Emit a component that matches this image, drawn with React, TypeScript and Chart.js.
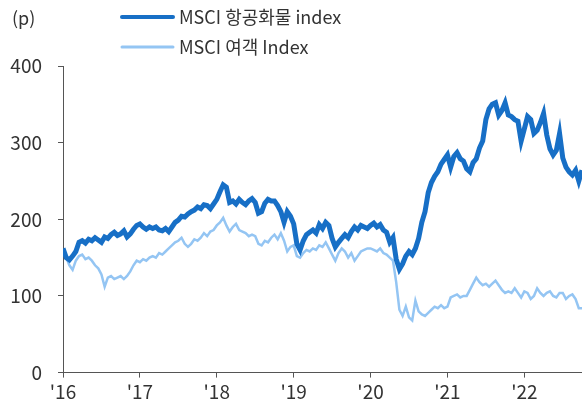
import React, { useEffect, useRef } from "react";
import { Chart, registerables } from "chart.js";

Chart.register(...registerables);

// decimal-year time stamps, half-month spacing from Jan 2016 to Sep 2022
const dates: number[] = Array.from({ length: 163 }, (_, i) => 2016 + i / 24);

const xTickYears = [2016, 2017, 2018, 2019, 2020, 2021, 2022];
const yTicks = [0, 100, 200, 300, 400];

const seriesNames = ["MSCI 항공화물 index", "MSCI 여객 Index"];
const unitLabel = "(p)";

const cargoIndex = [
  162, 150, 147, 152, 158, 170, 172, 169, 174, 172, 176, 173, 170, 177, 175, 180, 183, 179, 181, 185, 177, 181, 187, 192,
  194, 190, 187, 190, 188, 190, 186, 185, 188, 184, 190, 196, 199, 204, 203, 207, 210, 212, 216, 214, 219, 218, 214, 220,
  226, 236, 245, 242, 222, 224, 220, 226, 222, 219, 224, 227, 222, 208, 210, 221, 226, 224, 224, 218, 210, 196, 210, 204,
  194, 168, 160, 172, 180, 183, 186, 182, 193, 188, 196, 192, 175, 164, 170, 175, 180, 176, 184, 190, 186, 192, 190, 188,
  192, 195, 190, 193, 186, 183, 170, 176, 148, 135, 142, 152, 158, 154, 162, 175, 196, 210, 235, 248, 256, 262, 272, 278,
  284, 268, 282, 287, 279, 276, 266, 262, 274, 279, 293, 302, 330, 344, 350, 352, 336, 342, 352, 336, 334, 330, 328, 302,
  318, 334, 330, 312, 316, 326, 338, 310, 292, 284, 290, 312, 280, 268, 262, 258, 264, 250, 264,
];

const passengerIndex = [
  158, 150, 140, 134, 146, 152, 154, 148, 150, 146, 140, 136, 128, 112, 124, 126, 122, 124, 126, 122, 126, 132, 140, 146,
  144, 148, 146, 150, 152, 150, 156, 154, 158, 162, 166, 170, 172, 176, 168, 164, 168, 174, 172, 176, 182, 178, 184, 186,
  192, 196, 202, 192, 184, 190, 194, 186, 184, 182, 178, 180, 178, 168, 166, 172, 170, 176, 180, 174, 182, 172, 158, 164,
  166, 152, 150, 156, 160, 158, 162, 160, 166, 164, 170, 162, 154, 146, 156, 162, 158, 150, 156, 146, 152, 158, 160, 162,
  162, 160, 158, 162, 156, 154, 150, 146, 118, 82, 74, 86, 72, 68, 94, 80, 76, 74, 78, 82, 86, 84, 88, 84,
  86, 98, 100, 102, 98, 100, 100, 108, 116, 124, 118, 114, 116, 112, 116, 120, 114, 108, 104, 106, 104, 110, 104, 98,
  106, 104, 96, 100, 110, 104, 100, 104, 106, 100, 98, 104, 104, 96, 100, 102, 96, 84, 84,
];

const darkBlue = "#176fc6";
const lightBlue = "#94c5f3";
const textColor = "#333333";
const axisColor = "#555555";
const fontFamily = '"Noto Sans CJK KR", "Noto Sans", sans-serif';

const legendPlugin = {
  id: "customLegend",
  afterDraw(chart: any) {
    const ctx = chart.ctx;
    ctx.save();
    ctx.font = `18px ${fontFamily}`;
    ctx.fillStyle = textColor;
    ctx.textBaseline = "middle";
    ctx.textAlign = "left";
    ctx.fillText(unitLabel, 12, 18);
    const items = [
      { y: 17, color: darkBlue, width: 4, text: seriesNames[0] },
      { y: 47, color: lightBlue, width: 3, text: seriesNames[1] },
    ];
    items.forEach((it) => {
      ctx.beginPath();
      ctx.strokeStyle = it.color;
      ctx.lineWidth = it.width;
      ctx.lineCap = "round";
      ctx.moveTo(122, it.y);
      ctx.lineTo(173, it.y);
      ctx.stroke();
      ctx.fillStyle = textColor;
      ctx.fillText(it.text, 179, it.y);
    });
    ctx.restore();
  },
};

export default function App() {
  const ref = useRef<HTMLCanvasElement | null>(null);
  useEffect(() => {
    if (!ref.current) return;
    const chart = new Chart(ref.current, {
      type: "line",
      data: {
        datasets: [
          {
            label: seriesNames[0],
            data: cargoIndex.map((v, i) => ({ x: dates[i], y: v })),
            borderColor: darkBlue,
            borderWidth: 5,
            pointRadius: 0,
            tension: 0,
          },
          {
            label: seriesNames[1],
            data: passengerIndex.map((v, i) => ({ x: dates[i], y: v })),
            borderColor: lightBlue,
            borderWidth: 2.5,
            pointRadius: 0,
            tension: 0,
          },
        ],
      },
      options: {
        animation: false,
        responsive: false,
        layout: { padding: { top: 66, left: 0, right: 0, bottom: 0 } },
        plugins: { legend: { display: false }, tooltip: { enabled: false } },
        scales: {
          x: {
            type: "linear",
            min: 2016,
            max: 2022.75,
            afterBuildTicks: (s: any) => {
              s.ticks = xTickYears.map((v) => ({ value: v }));
            },
            afterFit: (s: any) => {
              s.height = 27;
            },
            grid: { drawOnChartArea: false, drawTicks: true, tickLength: 5, color: axisColor },
            border: { color: axisColor, width: 1 },
            ticks: {
              color: textColor,
              font: { size: 19, family: fontFamily },
              padding: 3,
              maxRotation: 0,
              autoSkip: false,
              callback: (v: any) => "'" + String(v).slice(2),
            },
          },
          y: {
            min: 0,
            max: 400,
            afterBuildTicks: (s: any) => {
              s.ticks = yTicks.map((v) => ({ value: v }));
            },
            afterFit: (s: any) => {
              s.width = 63;
            },
            grid: { drawOnChartArea: false, drawTicks: true, tickLength: 5, color: axisColor },
            border: { color: axisColor, width: 1 },
            ticks: {
              color: textColor,
              font: { size: 19, family: fontFamily },
              padding: 16,
            },
          },
        },
      },
      plugins: [legendPlugin],
    });
    return () => chart.destroy();
  }, []);
  return (
    <div style={{ position: "absolute", left: 0, top: 0, width: 582, height: 400 }}>
      <canvas ref={ref} width={582} height={400} />
    </div>
  );
}
